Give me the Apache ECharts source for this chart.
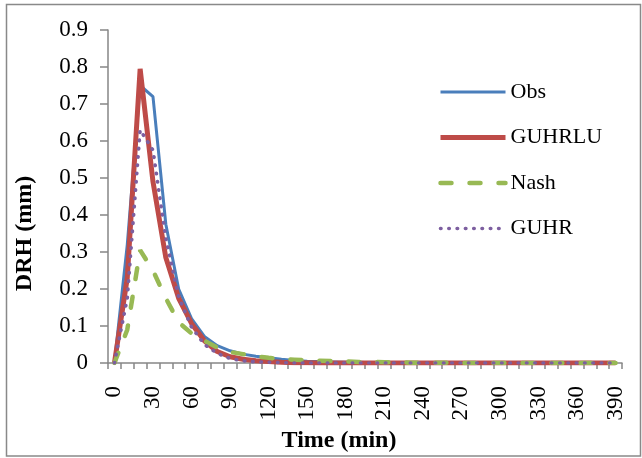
<!DOCTYPE html>
<html>
<head>
<meta charset="utf-8">
<script src="https://cdn.jsdelivr.net/npm/echarts@6/dist/echarts.min.js"></script>
<style>
  html, body { margin: 0; padding: 0; background: #fff; }
  #chart { width: 642px; height: 458px; }
</style>
</head>
<body>
<div id="chart"></div>
<script>
// time steps (min)
var times = [0, 10, 20, 30, 40, 50, 60, 70, 80, 90,
  100, 110, 120, 130, 140, 150, 160, 170, 180, 190,
  200, 210, 220, 230, 240, 250, 260, 270, 280, 290,
  300, 310, 320, 330, 340, 350, 360, 370, 380, 390]

// DRH (mm) values
var obs = [0, 0.32, 0.75, 0.72, 0.375, 0.2, 0.12, 0.072, 0.047, 0.033,
  0.024, 0.018, 0.014, 0.01, 0.007, 0.005, 0.004, 0.003, 0.002, 0.002,
  0.001, 0.001, 0.001, 0, 0, 0, 0, 0, 0, 0,
  0, 0, 0, 0, 0, 0, 0, 0, 0, 0]
var guhrlu = [0, 0.23, 0.795, 0.49, 0.285, 0.175, 0.107, 0.06, 0.031, 0.017,
  0.01, 0.006, 0.004, 0.002, 0.001, 0.001, 0, 0, 0, 0,
  0, 0, 0, 0, 0, 0, 0, 0, 0, 0,
  0, 0, 0, 0, 0, 0, 0, 0, 0, 0]
var nash = [0, 0.09, 0.305, 0.25, 0.175, 0.11, 0.08, 0.06, 0.042, 0.03,
  0.024, 0.018, 0.014, 0.011, 0.009, 0.007, 0.006, 0.005, 0.004, 0.003,
  0.003, 0.002, 0.002, 0.001, 0.001, 0.001, 0.001, 0, 0, 0,
  0, 0, 0, 0, 0, 0, 0, 0, 0, 0]
var guhr = [0, 0.175, 0.63, 0.575, 0.337, 0.178, 0.097, 0.05, 0.026, 0.012,
  0.006, 0.003, 0.002, 0.001, 0, 0, 0, 0, 0, 0,
  0, 0, 0, 0, 0, 0, 0, 0, 0, 0,
  0, 0, 0, 0, 0, 0, 0, 0, 0, 0]

var font = "'Liberation Serif', 'Times New Roman', serif"
var axisGray = "#868686"

var myChart = echarts.init(document.getElementById("chart"))
myChart.setOption({
  animation: false,
  backgroundColor: "#fff",
  graphic: [
    {
      type: "rect",
      shape: { x: 6.5, y: 4.5, width: 634, height: 451.5 },
      style: { fill: "none", stroke: "#898989", lineWidth: 1.5 },
      silent: true,
    },
  ],
  grid: {
    left: 108,
    right: 20,
    top: 30,
    bottom: 95,
  },
  legend: {
    orient: "vertical",
    left: 438,
    top: 81,
    padding: 0,
    itemWidth: 65,
    itemHeight: 20,
    itemGap: 23.5,
    itemStyle: { opacity: 0 },
    lineStyle: { width: "inherit" },
    textStyle: {
      fontFamily: font,
      fontSize: 22,
      color: "#000",
      lineHeight: 20,
    },
    data: ["Obs", "GUHRLU", "Nash", "GUHR"],
  },
  xAxis: {
    type: "category",
    data: times,
    boundaryGap: true,
    name: "Time (min)",
    nameLocation: "middle",
    nameGap: 62,
    nameTextStyle: {
      fontFamily: font,
      fontSize: 24,
      fontWeight: "bold",
      color: "#000",
      verticalAlign: "top",
      padding: [0, 52, 0, 0],
    },
    axisLine: { lineStyle: { color: axisGray, width: 1.5 } },
    axisTick: {
      show: true,
      interval: 0,
      length: 6,
      alignWithLabel: false,
      lineStyle: { color: axisGray, width: 1.5 },
    },
    axisLabel: {
      interval: 2,
      rotate: 90,
      margin: 23,
      fontFamily: font,
      fontSize: 23,
      color: "#000",
    },
    splitLine: { show: false },
  },
  yAxis: {
    type: "value",
    min: 0,
    max: 0.9,
    interval: 0.1,
    name: "DRH (mm)",
    nameLocation: "middle",
    nameGap: 71,
    nameTextStyle: {
      fontFamily: font,
      fontSize: 24,
      fontWeight: "bold",
      color: "#000",
      padding: [0, 74, 0, 0],
    },
    axisLine: { show: true, lineStyle: { color: axisGray, width: 1.5 } },
    axisTick: { show: true, length: 8, lineStyle: { color: axisGray, width: 1.5 } },
    axisLabel: {
      margin: 20,
      fontFamily: font,
      fontSize: 23,
      color: "#000",
    },
    splitLine: { show: false },
  },
  series: [
    {
      name: "Obs",
      type: "line",
      data: obs,
      symbol: "none",
      color: "#4A7EBB",
      lineStyle: { width: 3, color: "#4A7EBB" },
    },
    {
      name: "GUHRLU",
      type: "line",
      data: guhrlu,
      symbol: "none",
      color: "#BE4B48",
      lineStyle: { width: 5, color: "#BE4B48" },
    },
    {
      name: "Nash",
      type: "line",
      data: nash,
      symbol: "none",
      color: "#98B954",
      lineStyle: { width: 4.5, color: "#98B954", type: [11, 18], cap: "round" },
    },
    {
      name: "GUHR",
      type: "line",
      data: guhr,
      symbol: "none",
      color: "#7D5FA0",
      lineStyle: { width: 3.6, color: "#7D5FA0", type: [0.5, 7.8], cap: "round" },
    },
  ],
})
</script>
</body>
</html>
